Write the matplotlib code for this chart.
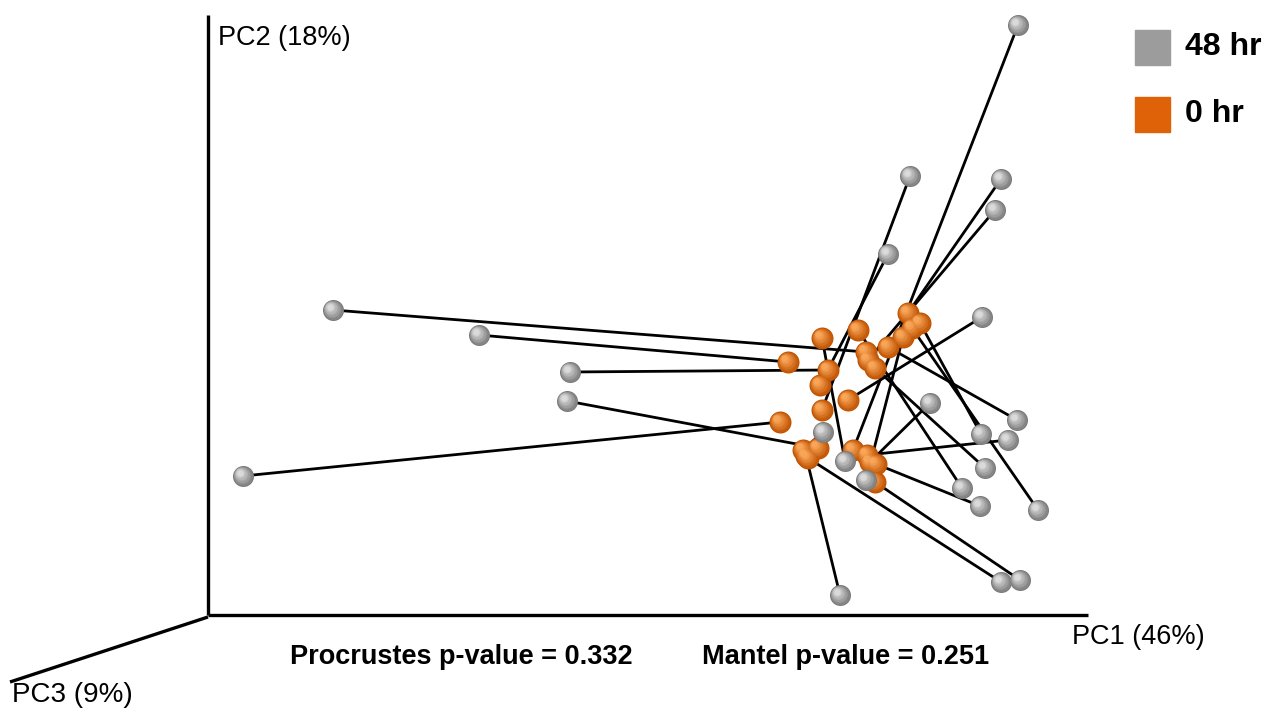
import numpy as np
import matplotlib
matplotlib.use("Agg")
import matplotlib.pyplot as plt
from matplotlib.colors import to_rgb

# Projected ordination scores (screen plane of the 3D view), one row per sample
hr48_x = [1018, 910, 888, 1001, 995, 333, 479, 570, 567, 243, 982, 930, 1017,
          981, 1008, 823, 845, 866, 985, 962, 980, 1038, 1001, 1020, 840]
hr48_y = [25, 176, 254, 179, 210, 310, 335, 372, 401, 476, 317, 403, 420,
          434, 440, 432, 461, 480, 468, 488, 506, 510, 582, 580, 595]
hr0_x = [853, 822, 820, 908, 868, 866, 788, 828, 818, 780, 848, 870, 888,
         920, 867, 803, 822, 903, 875, 858, 876, 912, 808, 875, 806]
hr0_y = [450, 410, 385, 313, 360, 352, 362, 370, 448, 422, 400, 462, 347,
         323, 455, 450, 338, 337, 368, 330, 464, 328, 458, 482, 456]

series_labels = ["48 hr", "0 hr"]
axis_labels = ["PC1 (46%)", "PC2 (18%)", "PC3 (9%)"]
stats_text = ["Procrustes p-value = 0.332", "Mantel p-value = 0.251"]

W, H = 1275, 713
fig = plt.figure(figsize=(W / 100, H / 100), dpi=100)
ax = fig.add_axes([0, 0, 1, 1])
ax.set_xlim(0, W)
ax.set_ylim(H, 0)
ax.axis("off")

FONT = "Liberation Sans"

# 3D axes frame
origin = (208, 615)
ax.plot([origin[0], origin[0]], [origin[1], 15], color="black", lw=2.4,
        solid_capstyle="butt", zorder=1)
ax.plot([origin[0], 1088], [origin[1], origin[1]], color="black", lw=2.4,
        solid_capstyle="butt", zorder=1)
ax.plot([origin[0], 10], [origin[1] + 2, 682], color="black", lw=2.4,
        solid_capstyle="butt", zorder=1)

ax.text(1072, 637, axis_labels[0], fontsize=19.5, family=FONT, va="center",
        ha="left")
ax.text(218, 38, axis_labels[1], fontsize=19.5, family=FONT, va="center",
        ha="left")
ax.text(12, 695, axis_labels[2], fontsize=20, family=FONT, va="center",
        ha="left")

ax.text(290, 657, stats_text[0], fontsize=19.5, family=FONT,
        fontweight="bold", va="center", ha="left")
ax.text(702, 657, stats_text[1], fontsize=19.5, family=FONT,
        fontweight="bold", va="center", ha="left")

# Procrustes links between matched samples
for gx, gy, ox, oy in zip(hr48_x, hr48_y, hr0_x, hr0_y):
    ax.plot([gx, ox], [gy, oy], color="black", lw=2.0, zorder=2,
            solid_capstyle="round")


def spheres(xs, ys, diam, dark, light, z, n=9):
    """Draw shaded balls by stacking shrinking, brightening discs."""
    xs = np.asarray(xs, float)
    ys = np.asarray(ys, float)
    c0 = np.array(to_rgb(dark))
    c1 = np.array(to_rgb(light))
    for i in range(n):
        t = i / (n - 1)
        d = diam * (1 - 0.72 * t)
        off = 0.16 * diam * t
        col = c0 * (1 - t) + c1 * t
        s = (d * 0.72) ** 2
        ax.scatter(xs - off, ys - off, s=s, color=col, linewidths=0,
                   zorder=z + i * 0.01)


spheres(hr0_x, hr0_y, 22, "#bf5200", "#f8a558", z=3)
spheres(hr48_x, hr48_y, 21, "#7a7a7a", "#dadada", z=4)

# Legend
ax.add_patch(plt.Rectangle((1135, 30), 35, 35, color="#9c9c9c", zorder=5))
ax.add_patch(plt.Rectangle((1135, 97), 35, 35, color="#df6108", zorder=5))
ax.text(1185, 47, series_labels[0], fontsize=23, family=FONT,
        fontweight="bold", va="center", ha="left")
ax.text(1185, 114, series_labels[1], fontsize=23, family=FONT,
        fontweight="bold", va="center", ha="left")

fig.savefig("out.png", dpi=100, facecolor="white")
